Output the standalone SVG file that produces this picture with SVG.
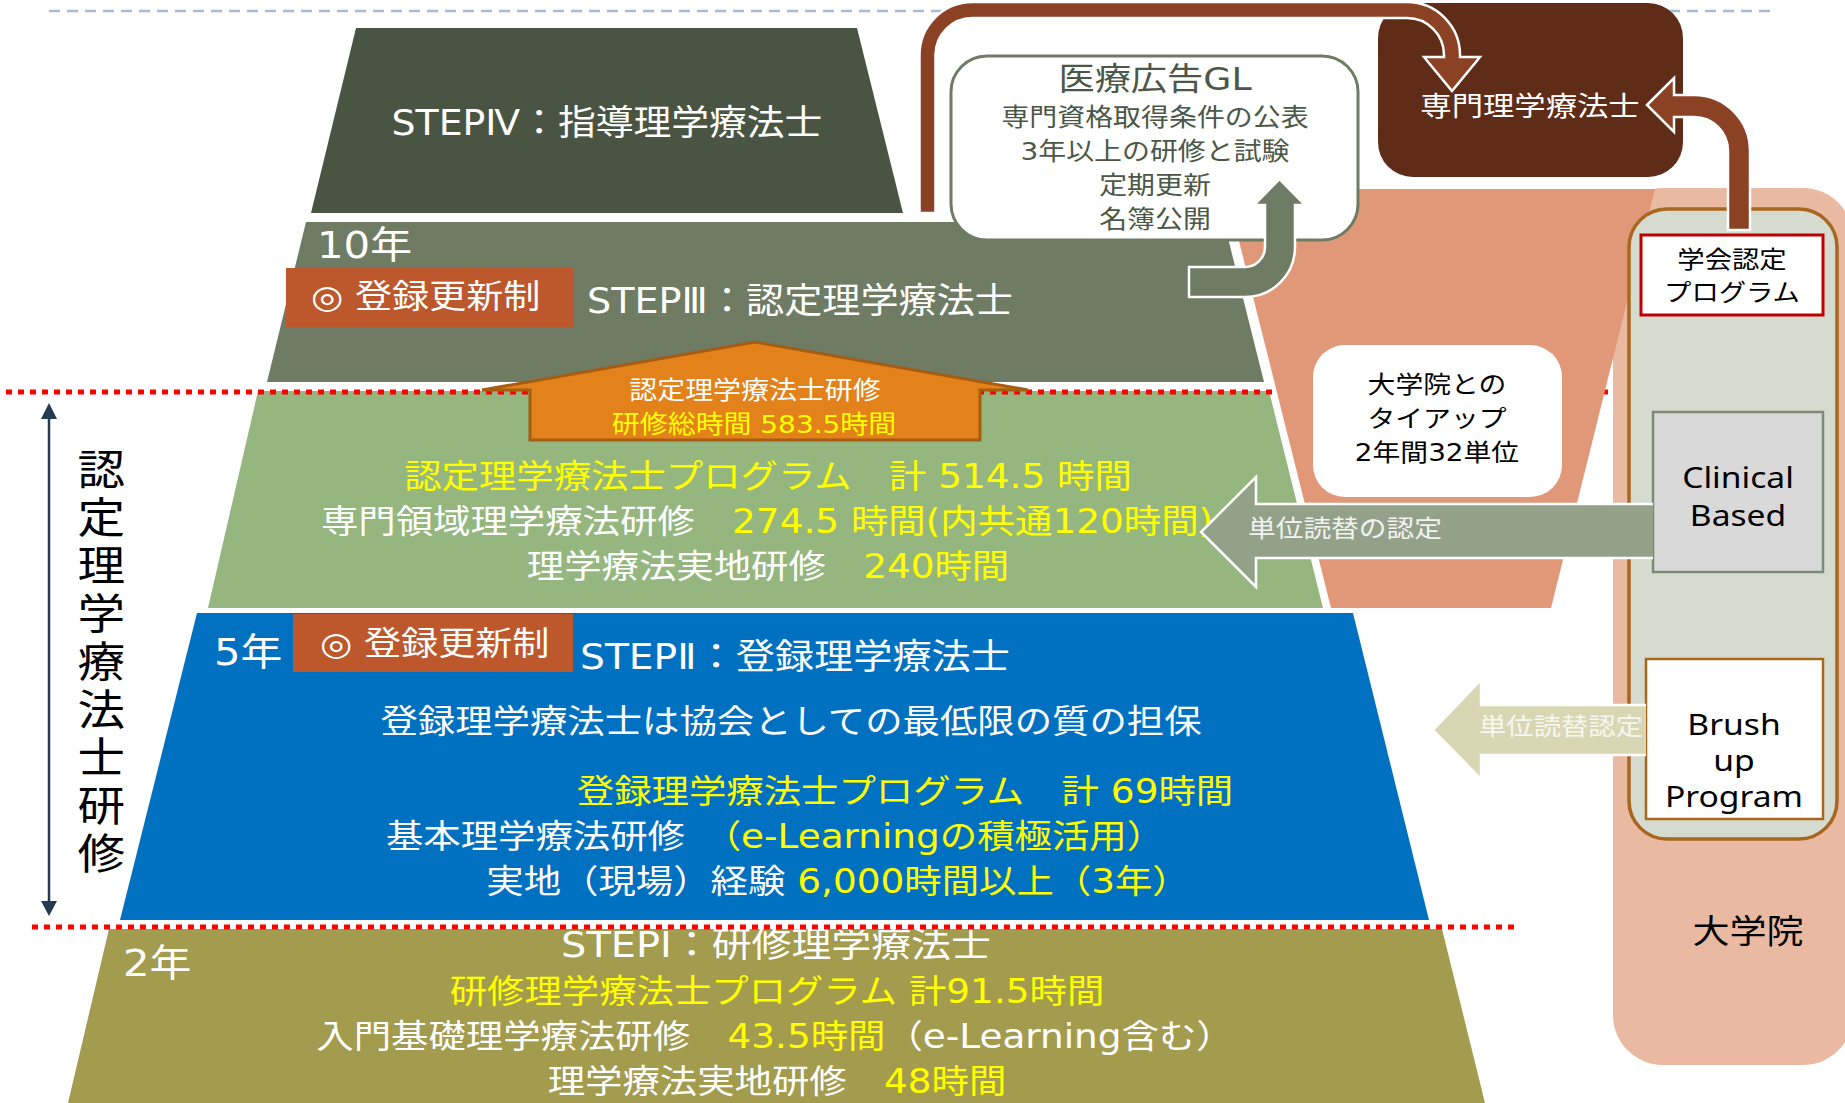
<svg xmlns="http://www.w3.org/2000/svg" width="1845" height="1103" viewBox="0 0 1845 1103">
<style>
text{font-family:"DejaVu Sans","Noto Sans CJK JP","Noto Sans CJK SC",sans-serif}
.w{fill:#fff}.y{fill:#ffff00}.k{fill:#000}.g{fill:#4c5747}
.m{text-anchor:middle}
.st{font-size:35px}.f38{font-size:38px}.f33{font-size:32.8px}.f32{font-size:32.5px}.f25{font-size:24.5px}
.red{stroke:#ff0000;stroke-width:5;stroke-dasharray:6 6;fill:none}
.ol{stroke:#fff;stroke-width:2.5;stroke-linejoin:miter}
.lat{font-family:"Noto Sans","Noto Sans CJK JP",sans-serif}
</style>
<rect width="1845" height="1103" fill="#fff"/>
<line x1="49" y1="11" x2="1777" y2="11" stroke="#a7bccf" stroke-width="2.5" stroke-dasharray="11 7"/>

<g id="step4">
<polygon points="356,28 857,28 903,213 311,213" fill="#4a5443"/>
<text class="w m st" transform="translate(607 135) scale(1.08 1)">STEPⅣ：指導理学療法士</text>
</g>

<g id="step3">
<polygon points="306,222 1224,222 1264,382 267,382" fill="#6f7b62"/>
<text class="w f38" transform="translate(317 258) scale(1.1 1)">10年</text>
<rect x="286" y="268" width="287" height="59" fill="#bc582c"/>
<text class="w f32" transform="translate(311 308) scale(1.14 1)">◎ 登録更新制</text>
<text class="w m st" transform="translate(800 313) scale(1.09 1)">STEPⅢ：認定理学療法士</text>
</g>

<g id="step3-program">
<polygon points="258,391 1269,391 1323,608 208,608" fill="#95b77f"/>
<text class="y m f33" transform="translate(768 488) scale(1.14 1)">認定理学療法士プログラム　計 514.5 時間</text>
<text class="w m f33" transform="translate(767 533) scale(1.14 1)">専門領域理学療法研修　<tspan class="y">274.5 時間(内共通120時間)</tspan></text>
<text class="w m f33" transform="translate(768 578) scale(1.14 1)">理学療法実地研修　<tspan class="y">240時間</tspan></text>
</g>

<g id="step2">
<polygon points="197,613 1353,613 1429,920 120,920" fill="#0070c0"/>
<text class="w f38" transform="translate(214 665) scale(1.1 1)">5年</text>
<rect x="293" y="614" width="280" height="58" fill="#bc582c"/>
<text class="w f32" transform="translate(320 655) scale(1.14 1)">◎ 登録更新制</text>
<text class="w m st" transform="translate(795 669) scale(1.12 1)">STEPⅡ：登録理学療法士</text>
<text class="w m f33" transform="translate(791 733) scale(1.14 1)">登録理学療法士は協会としての最低限の質の担保</text>
<text class="y m f33" transform="translate(905 803) scale(1.14 1)">登録理学療法士プログラム　計 69時間</text>
<text class="w m f33" transform="translate(775 848) scale(1.14 1)">基本理学療法研修　<tspan class="y">（e-Learningの積極活用）</tspan></text>
<text class="w m f33" transform="translate(838 893) scale(1.14 1)">実地（現場）経験 <tspan class="y">6,000時間以上（3年）</tspan></text>
</g>

<g id="step1">
<polygon points="109,929 1442,929 1485,1103 68,1103" fill="#a39b4e"/>
<text class="w f38" transform="translate(123 976) scale(1.1 1)">2年</text>
<text class="w m st" transform="translate(776 957) scale(1.14 1)">STEPⅠ：研修理学療法士</text>
<text class="y m f33" transform="translate(777 1003) scale(1.14 1)">研修理学療法士プログラム 計91.5時間</text>
<text class="w m f33" transform="translate(775 1048) scale(1.14 1)">入門基礎理学療法研修　<tspan class="y">43.5時間</tspan>（e-Learning含む）</text>
<text class="w m f33" transform="translate(777 1093) scale(1.14 1)">理学療法実地研修　<tspan class="y">48時間</tspan></text>
</g>

<g id="separators">
<line class="red" x1="6" y1="392" x2="1612" y2="392"/>
<line class="red" x1="32" y1="927" x2="1514" y2="927"/>
</g>

<g id="daigakuin">
<rect x="1613" y="188" width="240" height="877" rx="50" fill="#e9b9a1"/>
<text class="k m f32" transform="translate(1748 943) scale(1.14 1)">大学院</text>
</g>

<g id="funnel">
<polygon points="1226,189 1655,189 1551,608 1331,608" fill="#e09879"/>
</g>

<g id="inner-panel">
<rect x="1629" y="209" width="208" height="630" rx="38" fill="#d5dbcf" stroke="#a9661f" stroke-width="3.5"/>
</g>

<g id="nintei-kenshu">
<polygon points="755,342 1028,390 980,390 980,440 530,440 530,390 482,390" fill="#e3821a" stroke="#a65c12" stroke-width="3"/>
<text class="w m f25" transform="translate(755 399) scale(1.14 1)">認定理学療法士研修</text>
<text class="y m f25" transform="translate(754 433) scale(1.14 1)">研修総時間 583.5時間</text>
</g>

<g id="gl">
<rect x="951" y="56" width="407" height="184" rx="36" fill="#fff" stroke="#6f7b62" stroke-width="3"/>
<text class="g m" font-size="31.8" transform="translate(1155 90) scale(1.14 1)">医療広告GL</text>
<text class="g m f25" transform="translate(1155 126) scale(1.14 1)">専門資格取得条件の公表</text>
<text class="g m f25" transform="translate(1155 160) scale(1.14 1)">3年以上の研修と試験</text>
<text class="g m f25" transform="translate(1155 194) scale(1.14 1)">定期更新</text>
<text class="g m f25" transform="translate(1155 228) scale(1.14 1)">名簿公開</text>
</g>

<g id="senmon">
<rect x="1378" y="3" width="305" height="174" rx="35" fill="#5e2c17"/>
<text class="w m" font-size="27.5" transform="translate(1530 116) scale(1.14 1)">専門理学療法士</text>
</g>

<g id="gakkai">
<rect x="1641" y="235" width="182" height="80" fill="#fff" stroke="#c00000" stroke-width="3"/>
<text class="k m" font-size="24" transform="translate(1732 268) scale(1.14 1)">学会認定<tspan x="0" dy="33">プログラム</tspan></text>
</g>

<g id="tieup">
<rect x="1313" y="345" width="249" height="152" rx="32" fill="#fff"/>
<text class="k m" font-size="24.4" transform="translate(1437 393) scale(1.14 1)">大学院との<tspan x="0" dy="34">タイアップ</tspan><tspan x="0" dy="34">2年間32単位</tspan></text>
</g>

<g id="clinical">
<rect x="1653" y="412" width="170" height="160" fill="#d9d9d9" stroke="#7c8a75" stroke-width="2.5"/>
<text class="k m lat" font-size="30" transform="translate(1738 488) scale(1.12 1)">Clinical<tspan x="0" dy="38">Based</tspan></text>
</g>

<g id="brushup">
<rect x="1646" y="659" width="177" height="160" fill="#fff" stroke="#a9661f" stroke-width="2.5"/>
<text class="k m lat" font-size="29" transform="translate(1734 735) scale(1.16 1)">Brush<tspan x="0" dy="36">up</tspan><tspan x="0" dy="36">Program</tspan></text>
</g>

<g id="vertical-label">
<text class="k" font-size="42.5" writing-mode="vertical-rl" letter-spacing="5.5" transform="translate(97 448) scale(1.12 1)">認定理学療法士研修</text>
</g>

<g id="connectors">
<path class="ol" fill="#8b4124" d="M919.5,213 L919.5,55 A53,53 0 0 1 972.5,2 L1407,2 A53,53 0 0 1 1460,55 L1460,57 L1480,57 L1452,91 L1424,57 L1444,57 L1444,55 A37,37 0 0 0 1407,18 L972.5,18 A37,37 0 0 0 935.5,55 L935.5,213 Z"/>
<path class="ol" fill="#8b4124" d="M1647,105 L1674,78 L1674,95 L1694,95 A56,56 0 0 1 1750,151 L1750,230 L1728,230 L1728,151 A34,34 0 0 0 1694,117 L1674,117 L1674,132 Z"/>
<path class="ol" fill="#6f7b62" d="M1189,267 L1245,267 A20,20 0 0 0 1265,247 L1265,205 L1254,205 L1279.5,179 L1305,205 L1295,205 L1295,247 A50,50 0 0 1 1245,297 L1189,297 Z"/>
<path class="ol" fill="#93a189" d="M1653,504 L1256,504 L1256,477 L1201,532 L1256,587 L1256,558 L1653,558"/>
<text fill="#f2f2f2" font-size="24.3" transform="translate(1248 537) scale(1.14 1)">単位読替の認定</text>
<path class="ol" fill="#d9d7b3" d="M1646,705 L1481,705 L1481,680 L1433,730 L1481,779 L1481,755 L1646,755"/>
<text fill="#f7f7f2" font-size="24" transform="translate(1479 735) scale(1.14 1)">単位読替認定</text>
<line x1="49" y1="417" x2="49" y2="902" stroke="#243b53" stroke-width="2.5"/>
<polygon points="49,403 41,419 57,419" fill="#243b53"/>
<polygon points="49,916 41,901 57,901" fill="#243b53"/>
</g>
</svg>
